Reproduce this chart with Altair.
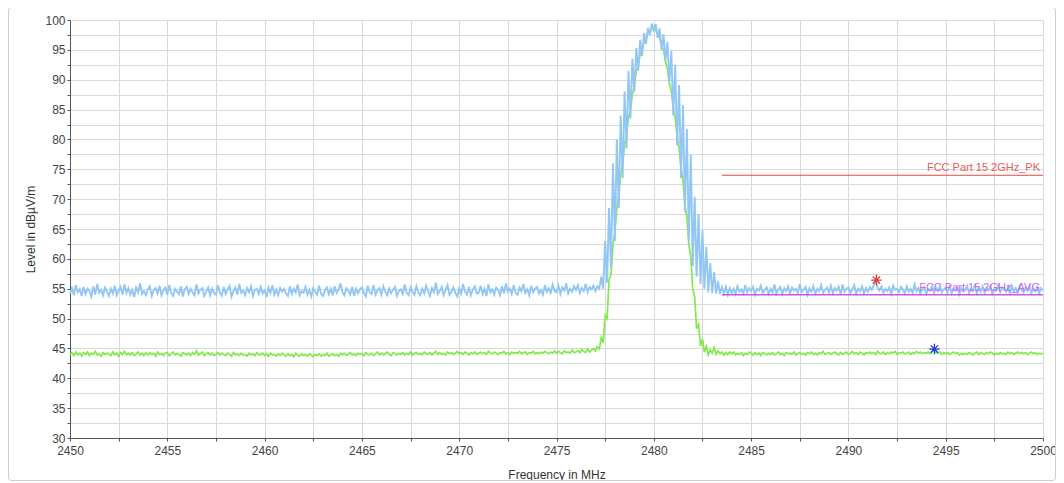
import altair as alt
import pandas as pd

# Sweep: 2450.0 .. 2500.0 MHz, 0.1 MHz per point (one row = 1 MHz)
FREQ_START = 2450.0
FREQ_STEP = 0.1

# Peak detector trace (dBuV/m)
pk_level = [
    54.2, 55.1, 53.9, 55.6, 54.4, 54.9, 53.8, 55.3, 54.1, 55.0,
    54.6, 53.7, 55.4, 54.0, 55.8, 54.3, 54.8, 53.9, 55.2, 54.5,
    53.8, 55.0, 54.2, 55.5, 53.9, 54.7, 55.3, 54.0, 55.7, 54.3,
    55.1, 54.0, 54.8, 53.6, 55.2, 54.4, 55.9, 54.1, 54.6, 53.9,
    54.9, 55.4, 53.8, 54.7, 55.1, 54.2, 55.5, 53.9, 54.8, 55.2,
    54.0, 55.6, 54.3, 53.8, 55.0, 54.5, 54.1, 55.4, 53.7, 54.9,
    55.3, 54.1, 55.0, 54.4, 53.9, 55.7, 54.2, 54.8, 55.1, 53.8,
    54.5, 55.2, 53.9, 55.0, 54.3, 54.0, 55.6, 54.4, 53.8, 55.3,
    54.1, 54.9, 55.5, 53.7, 54.6, 55.2, 54.0, 55.8, 54.3, 54.7,
    53.9, 55.1, 54.4, 55.4, 53.8, 54.8, 55.0, 54.1, 55.3, 54.2,
    54.7, 53.6, 55.2, 54.3, 55.6, 54.0, 54.9, 53.9, 55.1, 54.5,
    55.0, 54.2, 53.8, 55.4, 54.1, 55.0, 54.4, 55.7, 53.9, 54.6,
    54.3, 55.3, 54.0, 54.8, 53.7, 55.1, 54.5, 54.0, 55.5, 54.2,
    53.8, 54.7, 55.2, 54.1, 55.0, 53.9, 55.4, 54.3, 54.8, 55.9,
    54.4, 53.9, 55.1, 54.6, 54.0, 55.3, 53.8, 55.0, 54.2, 54.9,
    55.2, 54.3, 53.7, 55.5, 54.4, 54.1, 55.6, 54.0, 54.7, 55.1,
    54.0, 55.4, 54.5, 53.9, 55.0, 54.2, 54.8, 55.3, 53.8, 54.6,
    54.9, 54.1, 55.7, 54.3, 53.9, 55.2, 54.5, 54.0, 55.4, 54.3,
    53.9, 55.0, 54.2, 55.5, 54.6, 53.8, 55.1, 54.4, 56.0, 54.1,
    54.6, 55.3, 53.9, 54.8, 55.6, 54.0, 54.5, 55.2, 54.3, 53.7,
    55.1, 54.2, 55.8, 54.5, 54.0, 55.3, 53.9, 54.9, 55.4, 54.2,
    54.3, 55.5, 54.1, 55.0, 53.8, 55.7, 54.4, 54.9, 54.0, 55.2,
    54.8, 53.9, 55.4, 54.2, 55.9, 54.5, 55.0, 54.1, 55.6, 54.3,
    54.0, 55.2, 54.6, 55.8, 54.3, 54.9, 53.9, 55.5, 54.4, 55.0,
    55.3, 54.2, 54.8, 54.0, 55.6, 54.5, 55.1, 54.3, 55.7, 54.6,
    54.4, 55.5, 54.1, 55.2, 54.7, 55.9, 54.2, 55.0, 54.5, 55.4,
    54.8, 55.6, 54.3, 55.1, 54.6, 55.8, 54.4, 55.3, 54.9, 55.5,
    54.6, 55.4, 55.0, 57.0, 55.0, 63.0, 56.0, 68.5, 58.5, 76.0,
    63.0, 80.0, 68.5, 84.0, 73.5, 88.0, 78.5, 91.5, 83.5, 93.5,
    88.0, 95.3, 91.5, 96.7, 94.0, 97.8, 96.0, 98.7, 97.5, 99.4,
    98.3, 99.3, 97.0, 98.6, 95.0, 97.6, 93.2, 96.3, 89.7, 94.8,
    84.0, 92.5, 79.0, 89.1, 73.5, 85.7, 67.9, 81.8, 63.0, 77.4,
    58.8, 70.4, 57.0, 67.5, 55.8, 64.8, 55.0, 62.0, 54.4, 59.3,
    54.3, 57.8, 54.2, 56.3, 54.1, 55.3, 54.2, 55.3, 54.0, 55.1,
    54.3, 55.0, 54.1, 55.4, 54.5, 54.9, 54.2, 55.6, 54.4, 55.1,
    54.6, 55.3, 54.0, 55.0, 54.7, 55.5, 54.3, 54.8, 55.2, 54.1,
    55.0, 54.4, 55.7, 54.2, 54.9, 55.3, 54.1, 55.1, 54.6, 55.4,
    54.2, 55.2, 54.7, 55.0, 54.3, 55.8, 54.5, 54.9, 55.3, 54.0,
    55.1, 54.5, 55.4, 54.1, 55.0, 54.6, 55.6, 54.3, 54.8, 55.2,
    54.4, 55.5, 54.2, 55.1, 54.7, 55.3, 54.0, 55.7, 54.5, 55.0,
    55.2, 54.3, 54.9, 55.6, 54.1, 55.0, 54.6, 55.4, 54.2, 55.1,
    54.5, 55.3, 54.8, 55.6, 56.4, 55.2, 54.7, 55.4, 54.3, 55.0,
    54.6, 55.2, 54.1, 55.5, 54.8, 55.0, 54.4, 55.3, 54.9, 54.2,
    55.4, 54.5, 55.0, 54.3, 55.7, 54.6, 55.1, 54.2, 54.9, 55.3,
    54.1, 55.0, 54.7, 55.4, 54.3, 55.2, 54.6, 55.5, 54.4, 54.9,
    55.2, 54.4, 55.6, 54.2, 55.0, 54.7, 55.3, 54.1, 55.1, 54.5,
    54.8, 55.5, 54.3, 55.0, 54.6, 55.7, 54.2, 55.2, 54.5, 55.4,
    54.3, 55.1, 54.8, 55.4, 54.1, 55.0, 54.7, 55.6, 54.4, 55.2,
    55.0, 54.5, 55.3, 54.2, 55.5, 54.6, 55.1, 54.3, 55.4, 54.8,
    54.4, 55.2, 54.7, 55.5, 54.3, 55.0, 54.6, 55.3, 54.2, 55.1,
    54.7,
]

# Average detector trace (dBuV/m)
avg_level = [
    44.0, 44.3, 43.8, 44.4, 43.9, 44.2, 43.7, 44.3, 44.0, 44.4,
    43.8, 44.2, 44.0, 44.5, 43.9, 44.1, 43.7, 44.3, 44.0, 44.2,
    44.1, 43.8, 44.4, 43.9, 44.2, 43.7, 44.3, 44.0, 44.5, 43.9,
    44.2, 43.9, 44.3, 43.8, 44.1, 44.4, 43.9, 44.2, 43.8, 44.3,
    43.9, 44.3, 44.0, 44.2, 43.7, 44.4, 44.0, 44.1, 43.8, 44.2,
    44.3, 43.8, 44.1, 44.4, 43.9, 44.2, 44.0, 43.7, 44.3, 44.1,
    43.9, 44.2, 43.8, 44.3, 44.0, 44.6, 43.9, 44.1, 44.4, 43.8,
    44.1, 44.3, 43.9, 44.2, 43.8, 44.0, 44.3, 43.9, 44.2, 44.0,
    43.8, 44.2, 44.0, 43.7, 44.3, 43.9, 44.1, 43.8, 44.2, 43.9,
    44.0, 43.7, 44.2, 43.9, 44.1, 43.8, 44.3, 43.9, 44.0, 44.2,
    43.8, 44.1, 43.7, 44.2, 43.9, 44.0, 43.7, 44.1, 43.8, 44.2,
    43.9, 43.7, 44.1, 43.8, 44.0, 43.6, 44.2, 43.9, 43.7, 44.1,
    43.8, 44.0, 43.7, 44.1, 43.9, 43.6, 44.0, 43.8, 44.1, 43.7,
    44.0, 43.8, 44.2, 43.7, 43.9, 44.1, 43.8, 44.0, 43.7, 44.2,
    43.9, 44.2, 43.8, 44.0, 44.3, 43.9, 44.1, 43.8, 44.2, 44.0,
    44.1, 43.8, 44.3, 44.0, 43.9, 44.2, 43.8, 44.1, 44.4, 43.9,
    44.2, 43.9, 44.1, 44.4, 44.0, 43.8, 44.3, 44.1, 43.9, 44.2,
    44.0, 44.3, 43.9, 44.2, 44.0, 44.4, 43.9, 44.1, 44.3, 44.0,
    44.2, 43.9, 44.4, 44.1, 44.0, 44.3, 43.9, 44.2, 44.5, 44.0,
    44.3, 44.0, 44.2, 43.9, 44.4, 44.1, 44.3, 44.0, 44.2, 44.5,
    44.1, 44.3, 44.0, 44.4, 44.2, 43.9, 44.3, 44.1, 44.4, 44.0,
    44.2, 44.4, 44.1, 44.3, 44.0, 44.5, 44.2, 44.1, 44.4, 44.2,
    44.0, 44.3, 44.2, 44.5, 44.1, 44.3, 44.0, 44.4, 44.2, 44.3,
    44.2, 44.5, 44.1, 44.3, 44.4, 44.0, 44.3, 44.2, 44.5, 44.1,
    44.3, 44.1, 44.4, 44.2, 44.5, 44.3, 44.1, 44.4, 44.2, 44.6,
    44.2, 44.5, 44.3, 44.1, 44.6, 44.3, 44.4, 44.2, 44.7, 44.3,
    44.4, 44.6, 44.3, 44.8, 44.5, 44.3, 44.9, 44.4, 44.7, 45.0,
    44.6, 45.3, 44.9, 46.8, 45.9, 50.5, 50.0, 56.5, 57.3, 62.2,
    64.5, 68.5, 70.7, 74.3, 75.8, 79.2, 80.9, 83.6, 85.0, 87.5,
    89.1, 91.4, 92.4, 94.2, 95.0, 96.4, 96.9, 97.8, 98.1, 98.6,
    98.5, 98.3, 97.7, 97.0, 95.8, 94.9, 93.0, 91.8, 89.4, 88.1,
    85.3, 83.6, 80.5, 78.5, 75.2, 73.1, 69.0, 67.0, 62.4, 60.4,
    55.0, 53.6, 48.3, 49.0, 45.4, 46.6, 44.4, 45.4, 43.9, 44.8,
    44.2, 45.1, 44.0, 44.6, 44.1, 44.4, 43.9, 44.3, 44.0, 44.4,
    44.1, 44.4, 43.9, 44.2, 44.0, 44.3, 43.8, 44.2, 44.0, 44.4,
    44.2, 43.9, 44.3, 44.0, 44.2, 43.8, 44.3, 44.1, 43.9, 44.2,
    44.0, 44.3, 43.9, 44.1, 44.4, 44.0, 44.2, 43.8, 44.3, 44.1,
    44.2, 44.0, 44.4, 43.9, 44.1, 44.3, 44.0, 44.2, 43.9, 44.3,
    44.1, 44.4, 44.0, 44.2, 43.9, 44.3, 44.1, 44.5, 44.0, 44.2,
    44.3, 44.0, 44.2, 44.4, 44.1, 43.9, 44.3, 44.0, 44.2, 44.4,
    44.0, 44.2, 44.5, 44.1, 44.3, 44.0, 44.4, 44.2, 43.9, 44.3,
    44.2, 44.4, 44.1, 44.3, 44.0, 44.5, 44.2, 44.1, 44.4, 44.0,
    44.3, 44.1, 44.4, 44.2, 44.5, 44.0, 44.3, 44.2, 44.4, 44.1,
    44.2, 44.4, 44.0, 44.3, 44.1, 44.5, 44.2, 44.4, 44.1, 44.3,
    44.2, 44.4, 44.1, 44.5, 44.9, 44.3, 44.2, 44.4, 44.0, 44.3,
    44.1, 44.3, 44.0, 44.2, 44.4, 44.1, 44.3, 43.9, 44.2, 44.0,
    44.2, 44.0, 44.3, 44.1, 43.9, 44.2, 44.4, 44.0, 44.3, 44.1,
    44.0, 44.3, 44.1, 44.4, 44.2, 43.9, 44.2, 44.0, 44.3, 44.1,
    44.2, 44.0, 44.4, 44.1, 44.3, 44.0, 44.2, 44.4, 44.1, 44.3,
    44.1, 44.3, 44.0, 44.2, 44.4, 44.1, 44.3, 44.0, 44.2, 44.1,
    44.2,
]

freq = [round(FREQ_START + FREQ_STEP * i, 1) for i in range(len(pk_level))]

# Limit lines
limit_freq = [2483.5, 2500.0]
pk_limit = [74.0, 74.0]
avg_limit = [54.0, 54.0]
limit_names = ["FCC Part 15 2GHz_PK", "FCC Part 15 2GHz_AVG"]
limit_levels = [74.0, 54.0]
limit_colors = ["#e85a5a", "#cc66ee"]

# Final-measurement markers
marker_freq = [2491.44, 2494.42]
marker_level = [56.45, 44.9]
marker_colors = ["#e03a3a", "#2a3bd0"]

# Axis ticks / grid
x_ticks = [2450, 2452.5, 2455, 2457.5, 2460, 2462.5, 2465, 2467.5, 2470, 2472.5,
           2475, 2477.5, 2480, 2482.5, 2485, 2487.5, 2490, 2492.5, 2495, 2497.5, 2500]
y_ticks = [30, 32.5, 35, 37.5, 40, 42.5, 45, 47.5, 50, 52.5, 55, 57.5, 60, 62.5, 65,
           67.5, 70, 72.5, 75, 77.5, 80, 82.5, 85, 87.5, 90, 92.5, 95, 97.5, 100]

FONT = "Liberation Sans"
PLOT_W = 973
PLOT_H = 418

traces = pd.DataFrame({"freq": freq, "pk": pk_level, "avg": avg_level})
pk_lim_df = pd.DataFrame({"freq": limit_freq, "level": pk_limit})
avg_lim_df = pd.DataFrame({"freq": limit_freq, "level": avg_limit})
label_df = pd.DataFrame({"freq": [2500.0, 2500.0], "level": limit_levels,
                         "name": limit_names, "color": limit_colors})
marker_df = pd.DataFrame({"freq": marker_freq, "level": marker_level, "color": marker_colors})

x_scale = alt.Scale(domain=[2450, 2500], nice=False, zero=False)
y_scale = alt.Scale(domain=[30, 100], nice=False, zero=False)

x_axis = alt.Axis(values=x_ticks, labelExpr="datum.value % 5 == 0 ? datum.label : ''",
                  format="d", title="Frequency in MHz", labelFlush=False, labelOverlap=False,
                  titleX=PLOT_W / 2, titleY=36, titleBaseline="middle", titleAnchor="middle",
                  labelPadding=4)
y_axis = alt.Axis(values=y_ticks, labelExpr="datum.value % 5 == 0 ? datum.label : ''",
                  format="d", title="Level in dBµV/m", labelFlush=False, labelOverlap=False,
                  titleX=-40, titleY=PLOT_H / 2, titleAngle=-90, titleAlign="center",
                  titleBaseline="middle", labelPadding=2)


def X():
    return alt.X("freq:Q", scale=x_scale, axis=x_axis)


def Y(field):
    return alt.Y(f"{field}:Q", scale=y_scale, axis=y_axis)


avg_line = alt.Chart(traces).mark_line(color="#80ea4c", strokeWidth=1.7).encode(
    x=X(), y=Y("avg"))
pk_line = alt.Chart(traces).mark_line(color="#92c6f4", strokeWidth=1.9).encode(
    x=X(), y=Y("pk"))

pk_lim = alt.Chart(pk_lim_df).mark_line(color="#e8473f", strokeWidth=1.2).encode(
    x=X(), y=Y("level"))
avg_lim = alt.Chart(avg_lim_df).mark_line(color="#cc55ee", strokeWidth=1.5).encode(
    x=X(), y=Y("level"))

labels = alt.Chart(label_df).mark_text(align="right", baseline="bottom", dx=-3, dy=-2,
                                        font=FONT, fontSize=11).encode(
    x=X(), y=Y("level"),
    text="name:N", color=alt.Color("color:N", scale=None))

ASTERISK = "M0,-1L0,1M-1,0L1,0M-0.7,-0.7L0.7,0.7M-0.7,0.7L0.7,-0.7"
markers = alt.Chart(marker_df).mark_point(shape=ASTERISK, filled=False, size=110,
                                          strokeWidth=1.3, opacity=1).encode(
    x=X(), y=Y("level"),
    color=alt.Color("color:N", scale=None))

frame = alt.Chart(marker_df).mark_rect(filled=False, stroke="#cfcfcf", strokeWidth=1,
                                       cornerRadius=3, fillOpacity=0).encode(
    x=alt.value(-61.5), x2=alt.value(PLOT_W + 12.5), y=alt.value(-12.5), y2=alt.value(460.5))

chart = alt.layer(frame, avg_line, pk_line, pk_lim, avg_lim, labels, markers).properties(
    width=PLOT_W, height=PLOT_H,
    autosize=alt.AutoSizeParams(type="none"),
    padding={"left": 62, "top": 12, "right": 13, "bottom": 43},
).configure_view(strokeWidth=0).configure_axis(
    grid=True, gridColor="#d9d9d9", gridWidth=1,
    domainColor="#555555", domainWidth=1, tickColor="#555555", tickSize=3,
    labelFont=FONT, labelFontSize=12, labelColor="#444444",
    titleFont=FONT, titleFontSize=12, titleFontWeight="normal", titleColor="#333333",
)

chart.save("out.html", embed_options={"renderer": "svg", "actions": False})
